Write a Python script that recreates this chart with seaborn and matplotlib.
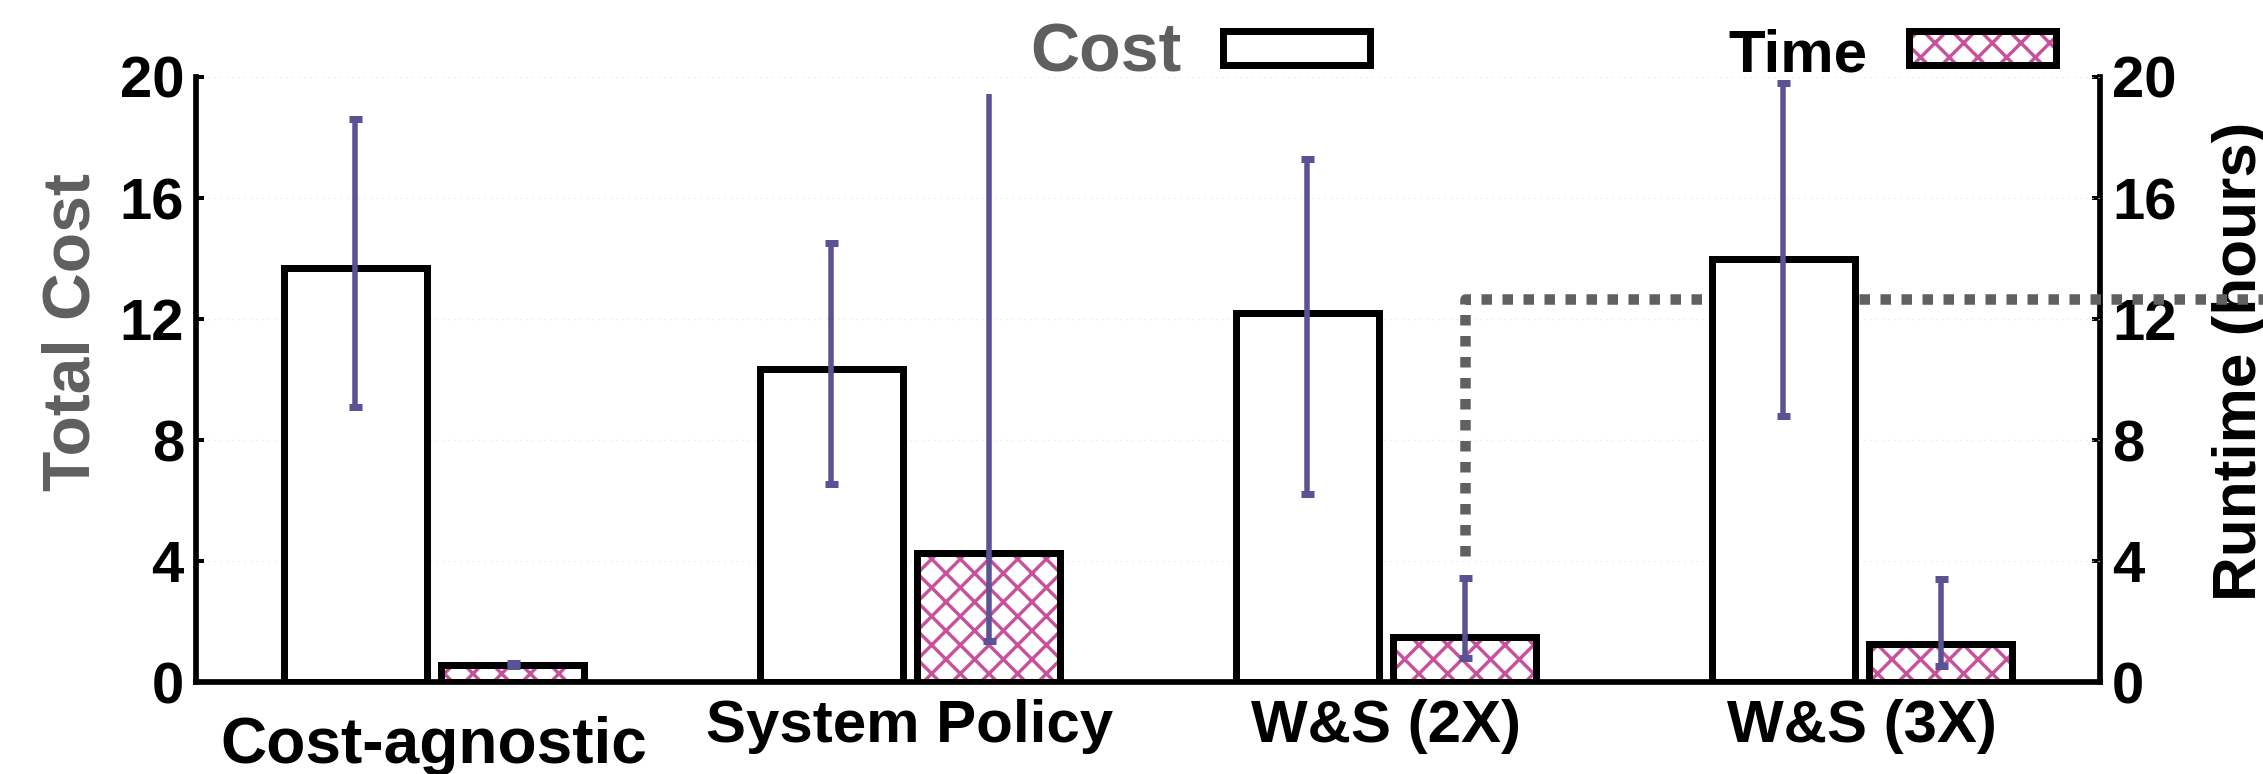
import numpy as np
import pandas as pd
import matplotlib
matplotlib.use("Agg")
import matplotlib.pyplot as plt
from matplotlib.patches import Rectangle
from matplotlib.lines import Line2D
from matplotlib.transforms import ScaledTranslation
import seaborn as sns

# ---- data -------------------------------------------------------------
policies = ["Cost-agnostic", "System Policy", "W&S (2X)", "W&S (3X)"]

cost_mean = [13.7, 10.35, 12.2, 14.0]
cost_low = [9.1, 6.55, 6.2, 8.8]
cost_high = [18.6, 14.5, 17.3, 19.8]

time_mean = [0.57, 4.26, 1.48, 1.27]
time_low = [0.52, 1.35, 0.78, 0.54]
time_high = [0.64, 19.43, 3.43, 3.39]

deadline_hours = 12.67      # runtime limit marked by the dotted guide
deadline_drop_to = 4.15     # lower end of the guide's vertical leg

y_ticks = [0, 4, 8, 12, 16, 20]

# ---- styling ----------------------------------------------------------
DPI = 86
PT = 72 / DPI               # pixel -> point conversion
PINK = "#c8519c"
ERR = "#5a5292"
GREY = "#5f5f5f"
EDGE_LW = 7 * PT

sns.set_theme(style="white")
plt.rcParams["font.family"] = ["Liberation Sans", "DejaVu Sans"]
plt.rcParams["font.weight"] = "bold"
plt.rcParams["hatch.linewidth"] = 3.4 * PT

df = pd.DataFrame({
    "policy": policies * 2,
    "metric": ["Cost"] * len(policies) + ["Time"] * len(policies),
    "value": cost_mean + time_mean,
})

fig = plt.figure(figsize=(2263 / DPI, 774 / DPI), dpi=DPI)
ax = fig.add_axes([196 / 2263, 1 - 682 / 774, 1904 / 2263, 605 / 774])
ax2 = ax.twinx()

sns.barplot(data=df, x="policy", y="value", hue="metric",
            hue_order=["Cost", "Time"],
            palette={"Cost": "white", "Time": "white"},
            width=0.66, gap=0.09, errorbar=None, legend=False,
            saturation=1, edgecolor="black", linewidth=EDGE_LW,
            ax=ax, zorder=3)

cost_bars, time_bars = ax.containers[0], ax.containers[1]

# hatched runtime bars: pink hatch underneath a black outline
for bar in time_bars:
    bar.set_hatch("x")
    bar.set_edgecolor(PINK)
    bar.set_linewidth(0)
    ax.add_patch(Rectangle(bar.get_xy(), bar.get_width(), bar.get_height(),
                           fill=False, edgecolor="black", linewidth=EDGE_LW,
                           zorder=3.5))

# error bars
def centers(bars):
    return np.array([b.get_x() + b.get_width() / 2 for b in bars])

cx = centers(cost_bars)
tx = centers(time_bars)
cm, tm = np.array(cost_mean), np.array(time_mean)
err_style = dict(fmt="none", ecolor=ERR, elinewidth=5.5 * PT,
                 capsize=6.5 * PT, capthick=7 * PT, zorder=5)
ax.errorbar(cx, cm, yerr=[cm - np.array(cost_low), np.array(cost_high) - cm],
            **err_style)
eb = ax.errorbar(tx, tm, yerr=[tm - np.array(time_low), np.array(time_high) - tm],
                 **err_style)
# the tallest runtime whisker runs off without an upper cap
upper_caps = eb[1][1]
ux, uy = upper_caps.get_data()
keep = np.asarray(uy) < 19
upper_caps.set_data(np.asarray(ux)[keep], np.asarray(uy)[keep])

# dotted deadline guide from the W&S (2X) runtime bar to the right edge
guide = Line2D([tx[2], tx[2], 3.95],
               [deadline_drop_to, deadline_hours, deadline_hours],
               color="#606060", linewidth=10.5 * PT,
               linestyle=(0, (1, 1)), dash_capstyle="butt",
               solid_joinstyle="miter", clip_on=False, zorder=2)
ax.add_line(guide)

# ---- axes ---------------------------------------------------------------
for a in (ax, ax2):
    a.set_ylim(0, 20)
    a.set_yticks(y_ticks)
ax.set_xlim(-0.5, 3.5)

ax.set_xlabel("")
ax.set_ylabel("Total Cost", fontsize=66 * PT, color=GREY, fontweight="bold")
ax.yaxis.set_label_coords(-0.0488, 0.578)
ax2.set_ylabel("Runtime (hours)", fontsize=62 * PT, color="black",
               fontweight="bold")
ax2.yaxis.set_label_coords(1.0588, 0.53)

spine_w = 5.7 * PT
for side in ("top", "right"):
    ax.spines[side].set_visible(False)
for side in ("top", "left", "bottom"):
    ax2.spines[side].set_visible(False)
for sp in (ax.spines["left"], ax.spines["bottom"], ax2.spines["right"]):
    sp.set_linewidth(spine_w)
    sp.set_color("black")

ax.tick_params(axis="y", direction="in", length=8 * PT, width=4 * PT,
               labelsize=58 * PT, pad=12 * PT, colors="black")
ax2.tick_params(axis="y", direction="in", length=8 * PT, width=4 * PT,
                labelsize=58 * PT, pad=12 * PT, colors="black")
ax.tick_params(axis="x", length=0, labelsize=60 * PT, pad=17 * PT,
               labelcolor="black")
for lbl in ax.get_yticklabels() + ax2.get_yticklabels() + ax.get_xticklabels():
    lbl.set_fontweight("bold")
    lbl.set_color("black")

first = ax.get_xticklabels()[0]
first.set_fontsize(64 * PT)
first.set_transform(first.get_transform()
                    + ScaledTranslation(0, -17 / DPI, fig.dpi_scale_trans))

ax.yaxis.grid(True, color="#e4e4e4", linestyle=(0, (1, 4)), linewidth=1.2 * PT)
ax.xaxis.grid(False)
ax2.grid(False)
ax.set_axisbelow(True)

# main axes above the twin so the guide runs over the right-hand label
ax.set_zorder(ax2.get_zorder() + 1)
ax.patch.set_visible(False)

# ---- legend -------------------------------------------------------------
cost_handle = Rectangle((0, 0), 1, 1, facecolor="white", edgecolor="black",
                        linewidth=7 * PT)
time_hatch = Rectangle((0, 0), 1, 1, facecolor="white", edgecolor=PINK,
                       linewidth=0, hatch="x")
time_edge = Rectangle((0, 0), 1, 1, fill=False, edgecolor="black",
                      linewidth=7 * PT)
leg = ax.legend([cost_handle, (time_hatch, time_edge)], ["Cost", "Time"],
                ncol=2, markerfirst=False, frameon=False,
                prop={"size": 64 * PT, "weight": "bold"},
                handlelength=2.3, handleheight=0.45, handletextpad=0.65,
                columnspacing=5.6, loc="center",
                bbox_to_anchor=(1543 / 2263, 1 - 53 / 774),
                bbox_transform=fig.transFigure, borderpad=0)
cost_txt, time_txt = leg.get_texts()
cost_txt.set_color(GREY)
cost_txt.set_fontsize(68 * PT)
time_txt.set_color("black")
time_txt.set_fontsize(60 * PT)

fig.savefig("out.png", dpi=DPI, facecolor="white")
